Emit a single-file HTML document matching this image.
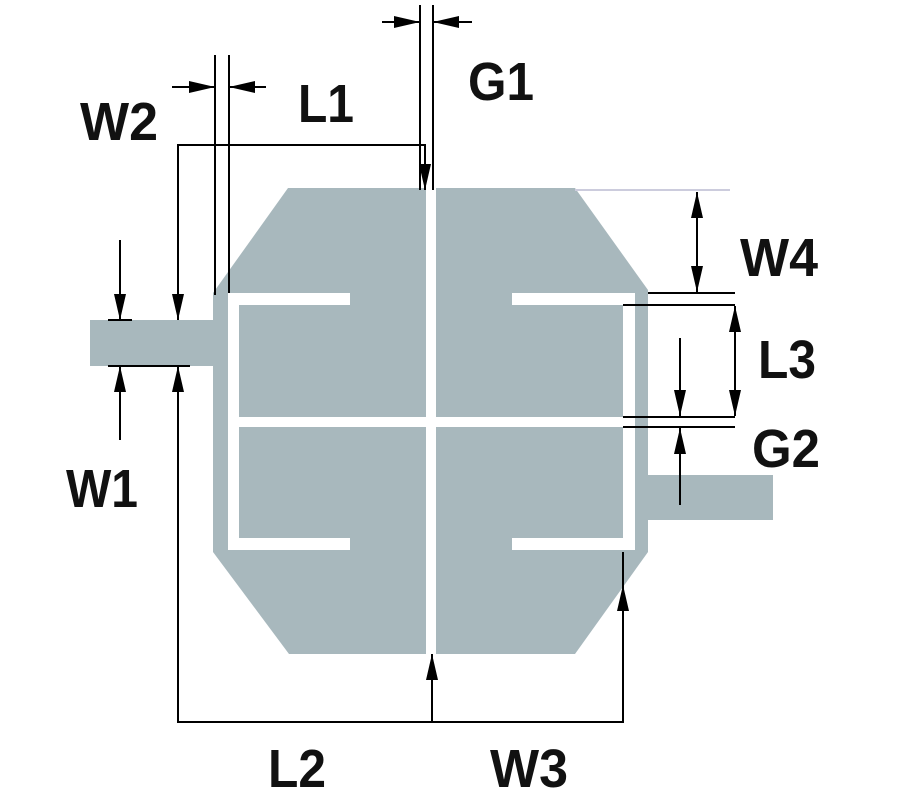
<!DOCTYPE html>
<html><head><meta charset="utf-8"><style>
html,body{margin:0;padding:0;background:#fff;}
svg{display:block;}
text{font-family:"Liberation Sans",Arial,sans-serif;font-weight:bold;font-size:54px;fill:#111;}
</style></head><body>
<svg width="900" height="800" viewBox="0 0 900 800" xmlns="http://www.w3.org/2000/svg">
<defs>
<marker id="ah" viewBox="0 0 26 12" refX="26" refY="6" markerWidth="26" markerHeight="12" orient="auto" markerUnits="userSpaceOnUse"><path d="M0,0 L26,6 L0,12 z" fill="#000"/></marker>
</defs>
<g fill="#a8b8bd">
<polygon points="288,188 575,188 648,290 648,552 575,654 289,654 213,552 213,293"/>
<rect x="90" y="320" width="126" height="46"/>
<rect x="645" y="475" width="128" height="45"/>
</g>
<g fill="#fff">
<rect x="426" y="188" width="10" height="466"/>
<rect x="228" y="417" width="407" height="10"/>
<rect x="228" y="293" width="11" height="257"/>
<rect x="228" y="293" width="122" height="12"/>
<rect x="228" y="538" width="122" height="12"/>
<rect x="623" y="293" width="12" height="257"/>
<rect x="512" y="293" width="123" height="12"/>
<rect x="512" y="538" width="123" height="12"/>
</g>
<g stroke="#000" stroke-width="2" fill="none">
<line x1="420" y1="5" x2="420" y2="190"/>
<line x1="433" y1="5" x2="433" y2="190"/>
<line x1="382" y1="22" x2="420" y2="22" marker-end="url(#ah)"/>
<line x1="472" y1="22" x2="433" y2="22" marker-end="url(#ah)"/>
<line x1="215" y1="55" x2="215" y2="295"/>
<line x1="229" y1="55" x2="229" y2="293"/>
<line x1="172" y1="87" x2="215" y2="87" marker-end="url(#ah)"/>
<line x1="266" y1="87" x2="229" y2="87" marker-end="url(#ah)"/>
<polyline points="178,320 178,145 425,145 425,190"/>
<line x1="425" y1="150" x2="425" y2="190" marker-end="url(#ah)"/>
<line x1="178" y1="280" x2="178" y2="320" marker-end="url(#ah)"/>
<line x1="120" y1="240" x2="120" y2="320" marker-end="url(#ah)"/>
<line x1="120" y1="440" x2="120" y2="366" marker-end="url(#ah)"/>
<line x1="108" y1="320" x2="132" y2="320"/>
<line x1="108" y1="366" x2="190" y2="366"/>
<polyline points="178,366 178,722 623,722 623,552"/>
<line x1="178" y1="420" x2="178" y2="366" marker-end="url(#ah)"/>
<line x1="432" y1="722" x2="432" y2="654" marker-end="url(#ah)"/>
<line x1="623" y1="640" x2="623" y2="585" marker-end="url(#ah)"/>
<line x1="575" y1="190" x2="730" y2="190" stroke="#ccd"/>
<line x1="648" y1="293" x2="735" y2="293"/>
<line x1="697" y1="240" x2="697" y2="192" marker-end="url(#ah)"/>
<line x1="697" y1="240" x2="697" y2="292" marker-end="url(#ah)"/>
<line x1="623" y1="305" x2="735" y2="305"/>
<line x1="623" y1="417" x2="735" y2="417"/>
<line x1="623" y1="427" x2="735" y2="427"/>
<line x1="735" y1="360" x2="735" y2="306" marker-end="url(#ah)"/>
<line x1="735" y1="360" x2="735" y2="416" marker-end="url(#ah)"/>
<line x1="680" y1="338" x2="680" y2="416" marker-end="url(#ah)"/>
<line x1="680" y1="505" x2="680" y2="428" marker-end="url(#ah)"/>
</g>
<text x="468" y="100" textLength="66" lengthAdjust="spacingAndGlyphs">G1</text>
<text x="80" y="140" textLength="78" lengthAdjust="spacingAndGlyphs">W2</text>
<text x="298" y="122" textLength="56" lengthAdjust="spacingAndGlyphs">L1</text>
<text x="740" y="276" textLength="78" lengthAdjust="spacingAndGlyphs">W4</text>
<text x="758" y="378" textLength="58" lengthAdjust="spacingAndGlyphs">L3</text>
<text x="752" y="467" textLength="68" lengthAdjust="spacingAndGlyphs">G2</text>
<text x="66" y="507" textLength="72" lengthAdjust="spacingAndGlyphs">W1</text>
<text x="268" y="787" textLength="58" lengthAdjust="spacingAndGlyphs">L2</text>
<text x="490" y="787" textLength="78" lengthAdjust="spacingAndGlyphs">W3</text>
</svg>
</body></html>
